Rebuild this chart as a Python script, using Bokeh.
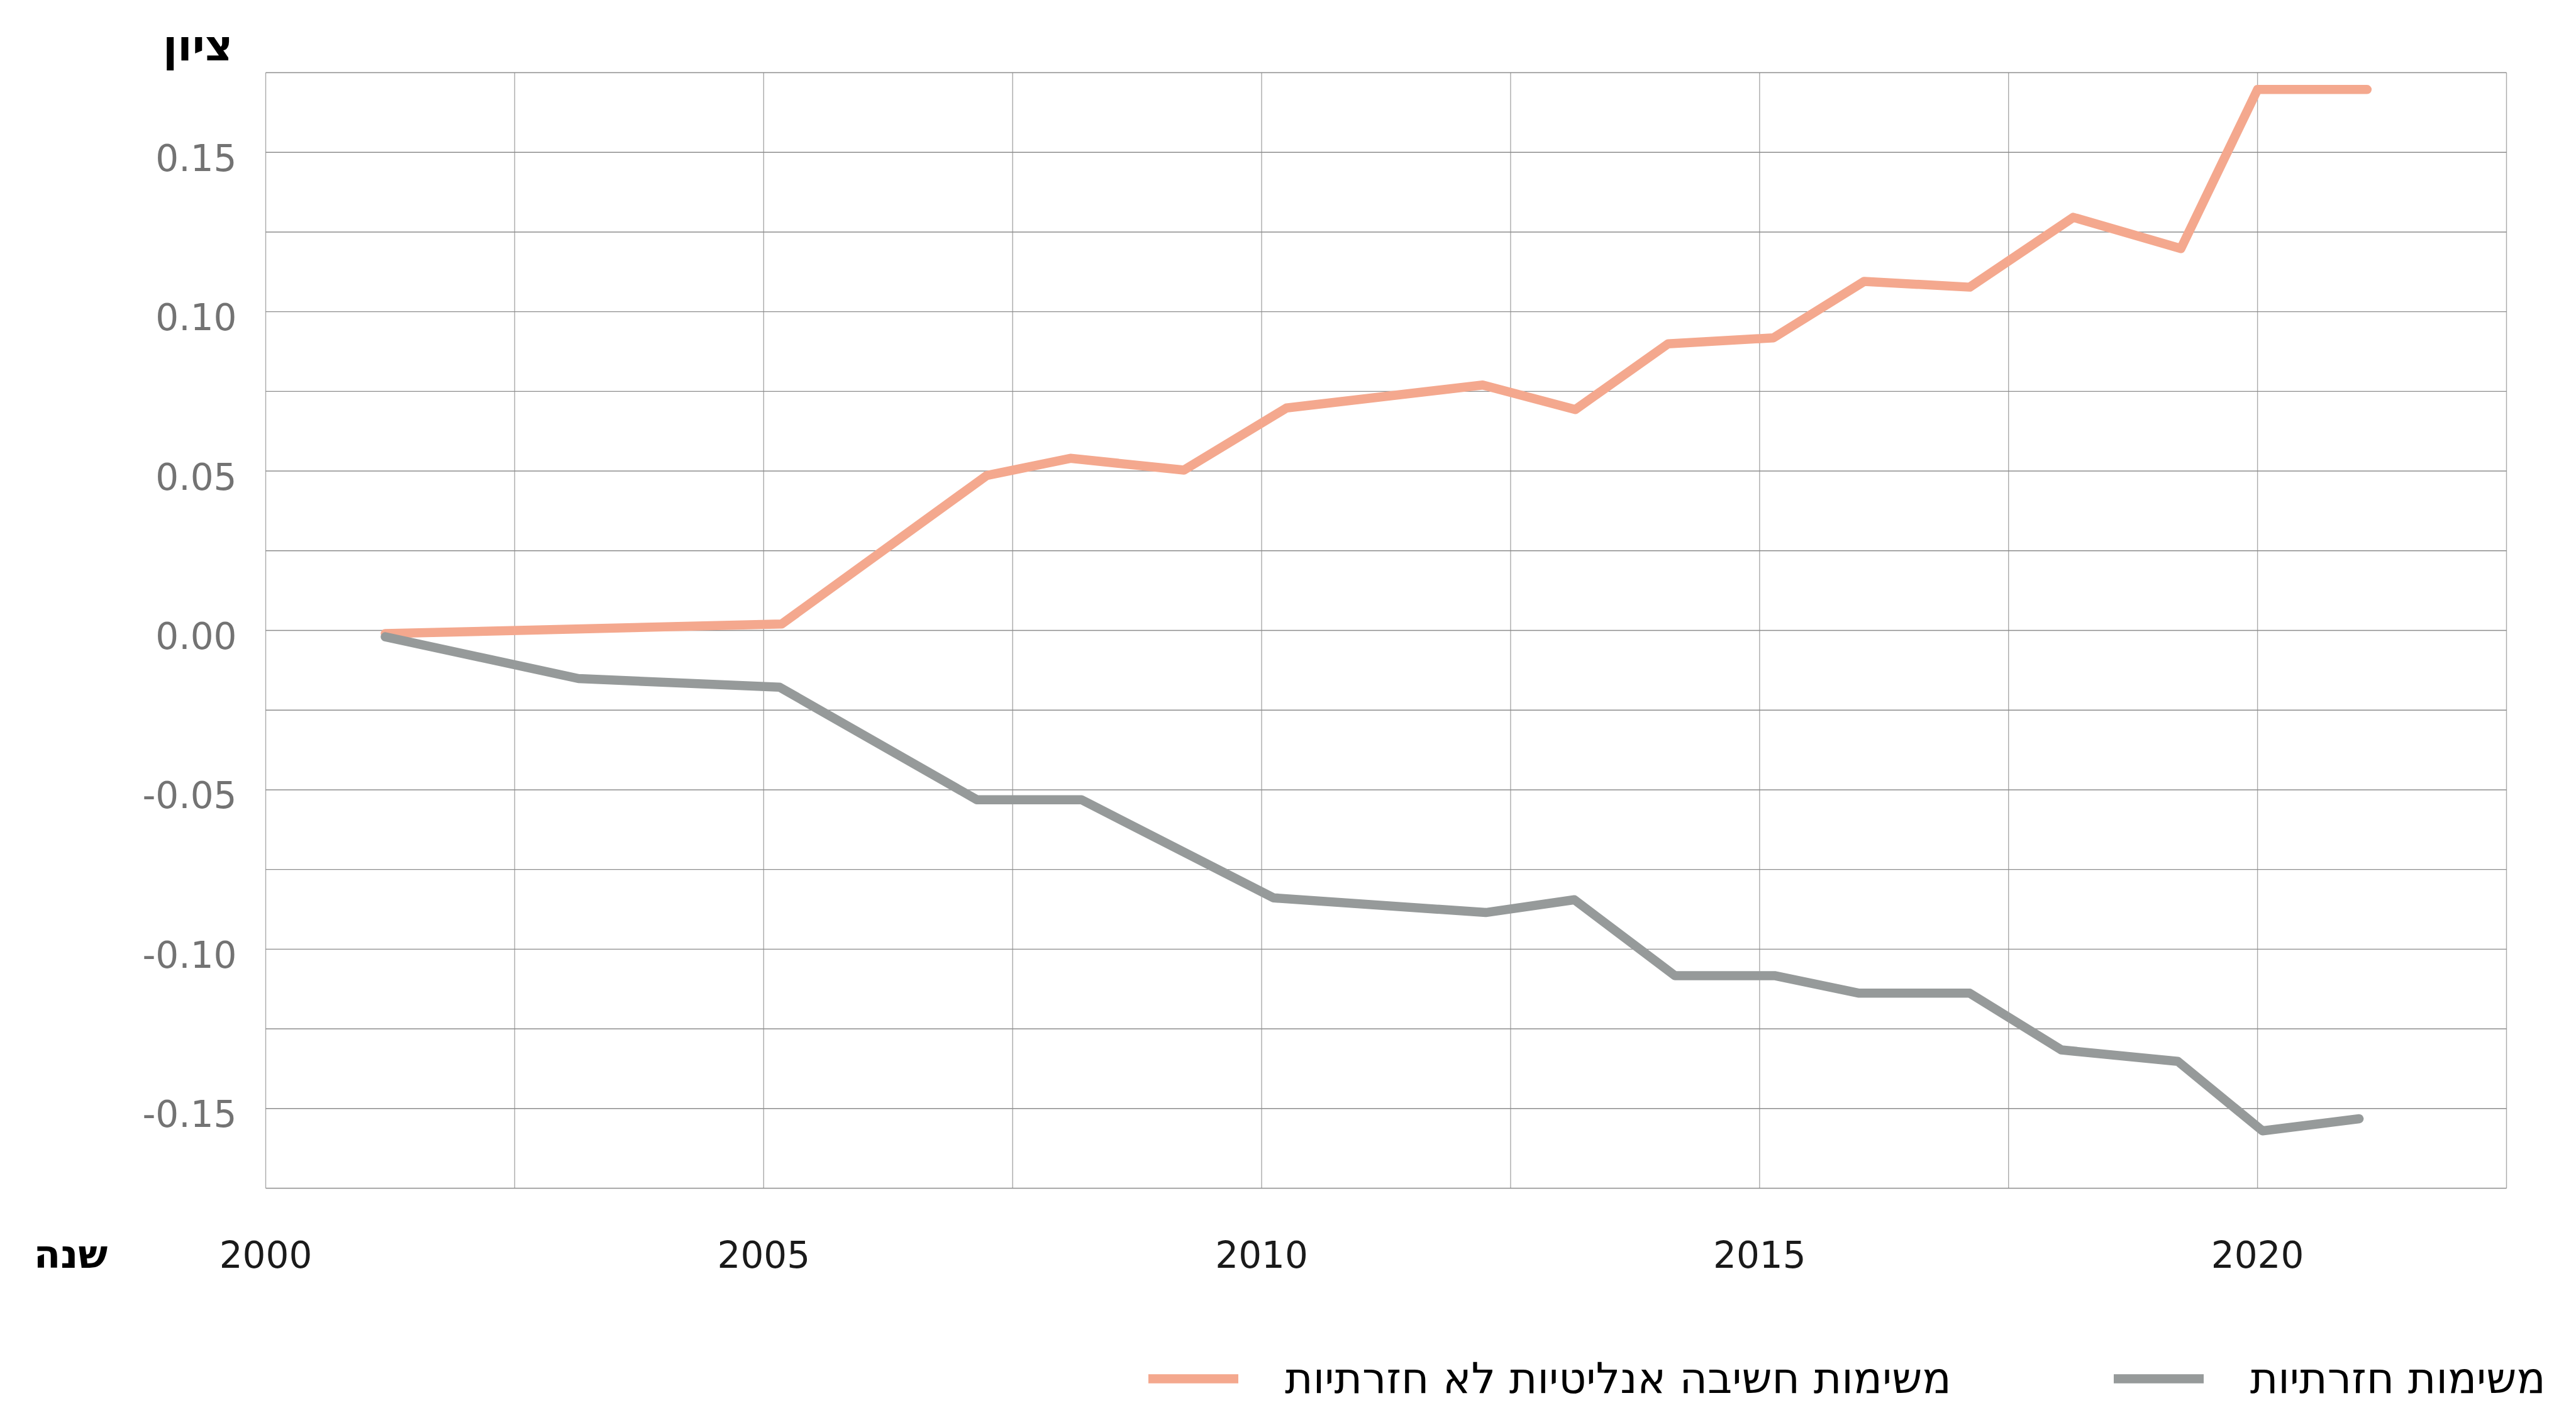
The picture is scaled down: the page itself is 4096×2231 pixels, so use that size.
from bokeh.plotting import figure
from bokeh.models import Legend, LegendItem, Label, Range1d
from bokeh.core.properties import value
from bokeh.embed import file_html
from bokeh.resources import INLINE

# ---- data ----
years_analytic = [2001.2, 2005.18, 2007.24, 2008.08, 2009.22, 2010.25, 2012.22, 2013.15,
                  2014.08, 2015.14, 2016.05, 2017.11, 2018.15, 2019.23, 2020.0, 2021.1]
analytic = [-0.001, 0.002, 0.0486, 0.054, 0.0503, 0.0698, 0.077, 0.0693,
            0.0899, 0.0918, 0.1095, 0.1077, 0.1296, 0.1198, 0.1697, 0.1697]

years_routine = [2001.2, 2003.14, 2005.16, 2007.14, 2008.19, 2010.12, 2012.25, 2013.14,
                 2014.15, 2015.15, 2016.0, 2017.11, 2018.03, 2019.2, 2020.05, 2021.02]
routine = [-0.002, -0.0151, -0.0178, -0.0531, -0.0531, -0.0839, -0.0885, -0.0845,
           -0.1083, -0.1083, -0.1138, -0.1138, -0.1316, -0.1352, -0.157, -0.1532]

label_analytic = "משימות חשיבה אנליטיות לא חזרתיות"
label_routine = "משימות חזרתיות"
y_title = "ציון"
x_title = "שנה"

x_ticks = [2000, 2005, 2010, 2015, 2020]
x_tick_labels = ["2000", "2005", "2010", "2015", "2020"]
x_grid = [2000, 2002.5, 2005, 2007.5, 2010, 2012.5, 2015, 2017.5, 2020, 2022.5]
y_ticks = [0.15, 0.10, 0.05, 0.0, -0.05, -0.10, -0.15]
y_tick_labels = ["0.15", "0.10", "0.05", "0.00", "-0.05", "-0.10", "-0.15"]
y_grid = [0.175, 0.15, 0.125, 0.10, 0.075, 0.05, 0.025, 0.0,
          -0.025, -0.05, -0.075, -0.10, -0.125, -0.15, -0.175]

X0, X1 = 2000, 2022.5      # plot-area value range
Y0, Y1 = -0.175, 0.175

# ---- layout (pixels) ----
W, H = 4090, 2231
L, R, T, B = 422, 3985, 115, 1889   # plot area edges on the canvas

ORANGE = "#f4a88e"
GRAY = "#969a9a"
NUM_FONT = "DejaVu Sans"
HEB_FONT = "DejaVu Sans"


def px_x(px):
    return X0 + (px - L) / (R - L) * (X1 - X0)


def px_y(py):
    return Y1 - (py - T) / (B - T) * (Y1 - Y0)


PX_PER_Y = (B - T) / (Y1 - Y0)

p = figure(width=W, height=H, output_backend="svg", toolbar_location=None,
           x_range=Range1d(px_x(0), px_x(W)), y_range=Range1d(px_y(H), px_y(0)),
           x_axis_location=None, y_axis_location=None,
           min_border=0, min_border_left=0, min_border_right=0,
           min_border_top=0, min_border_bottom=0)
p.outline_line_color = None
p.background_fill_color = "white"
p.border_fill_color = "white"
p.grid.visible = False

# grid lines of the plot area
p.segment(x0=x_grid, x1=x_grid, y0=[Y0] * len(x_grid), y1=[Y1] * len(x_grid),
          line_color="#a9a9a9", line_width=1.4)
p.segment(x0=[X0] * len(y_grid), x1=[X1] * len(y_grid), y0=y_grid, y1=y_grid,
          line_color="#8c8c8c", line_width=1.4)

# tick labels
p.text(x=x_ticks, y=[px_y(1994)] * len(x_ticks), text=x_tick_labels,
       text_font=value(NUM_FONT), text_font_size="58px", text_color="#1a1a1a",
       text_align="center", text_baseline="alphabetic")
p.text(x=[px_x(376)] * len(y_ticks), y=[t - 8 / PX_PER_Y for t in y_ticks],
       text=y_tick_labels,
       text_font=value(NUM_FONT), text_font_size="58px", text_color="#737373",
       text_align="right", text_baseline="middle")

# series
r1 = p.line(years_analytic, analytic, line_color=ORANGE, line_width=14.5,
            line_cap="round", line_join="round")
r2 = p.line(years_routine, routine, line_color=GRAY, line_width=14.5,
            line_cap="round", line_join="round")

# axis titles
p.add_layout(Label(x=px_x(314), y=px_y(72), text=y_title, text_align="center",
                   text_baseline="alphabetic", text_font=HEB_FONT, text_font_size="68px",
                   text_font_style="bold", text_color="#000000"))
p.add_layout(Label(x=px_x(112), y=px_y(1994), text=x_title, text_align="center",
                   text_baseline="alphabetic", text_font=HEB_FONT, text_font_size="62px",
                   text_font_style="bold", text_color="#000000"))

# legend
legend = Legend(items=[LegendItem(label=label_analytic, renderers=[r1]),
                       LegendItem(label=label_routine, renderers=[r2])],
                orientation="horizontal", location=(1826, 0),
                glyph_width=143, glyph_height=70, label_height=70,
                label_standoff=74, spacing=258, padding=0, margin=0,
                border_line_alpha=0, background_fill_alpha=0,
                label_text_font=HEB_FONT, label_text_font_size="68px",
                label_text_color="#000000")
p.add_layout(legend, "center")

open("out.html", "w").write(file_html(p, INLINE))
